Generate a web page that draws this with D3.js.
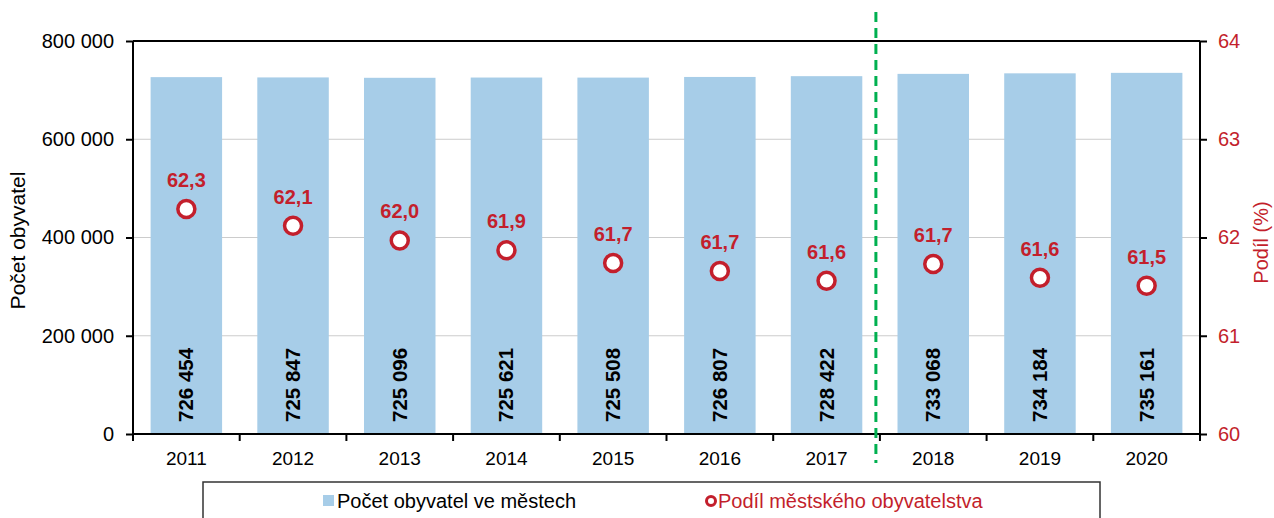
<!DOCTYPE html>
<html>
<head>
<meta charset="utf-8">
<script src="https://cdn.jsdelivr.net/npm/d3@7"></script>
<style>
  body { margin: 0; background: #fff; }
  svg text { font-family: "Liberation Sans", Arial, sans-serif; }
</style>
</head>
<body>
<div id="chart"></div>
<script>
// data
var years = ["2011", "2012", "2013", "2014", "2015", "2016", "2017", "2018", "2019", "2020"];
var population = [726454, 725847, 725096, 725621, 725508, 726807, 728422, 733068, 734184, 735161];
var share = [62.29, 62.12, 61.97, 61.87, 61.74, 61.66, 61.56, 61.73, 61.59, 61.51];
var leftTicks = [0, 200000, 400000, 600000, 800000];
var rightTicks = [60, 61, 62, 63, 64];
var breakAfter = "2017";

var width = 1274, height = 518,
  margin = {top: 41, right: 74, bottom: 84, left: 133},
  innerWidth = width - margin.left - margin.right,
  innerHeight = height - margin.top - margin.bottom;

var barColor = "#a7cde8", red = "#c31f2c";

var cz = d3.formatLocale({decimal: ",", thousands: "\u00a0", grouping: [3], currency: ["", ""]});
var fmtNum = cz.format(",d"), fmtPct = cz.format(".1f");

var svg = d3.select("#chart").append("svg")
  .attr("width", width)
  .attr("height", height);

var g = svg.append("g")
  .attr("transform", "translate(" + margin.left + "," + margin.top + ")");

var x = d3.scaleBand().domain(years).range([0, innerWidth]).paddingInner(0.33).paddingOuter(0.165);
var step = x.step();
var y = d3.scaleLinear().domain([0, 800000]).range([innerHeight, 0]);
var y2 = d3.scaleLinear().domain([60, 64]).range([innerHeight, 0]);

// gridlines
g.selectAll(".grid").data(leftTicks.slice(1, -1))
  .enter().append("line")
  .attr("x1", 0).attr("x2", innerWidth)
  .attr("y1", function(d) { return y(d); })
  .attr("y2", function(d) { return y(d); })
  .attr("stroke", "#cccccc").attr("stroke-width", 1);

// bars
g.selectAll(".bar").data(population)
  .enter().append("rect")
  .attr("x", function(d, i) { return x(years[i]); })
  .attr("y", function(d) { return y(d); })
  .attr("width", x.bandwidth())
  .attr("height", function(d) { return innerHeight - y(d); })
  .attr("fill", barColor);

// bar labels
g.selectAll(".blabel").data(population)
  .enter().append("text")
  .attr("transform", function(d, i) {
    return "translate(" + (x(years[i]) + x.bandwidth() / 2 + 7) + "," + (innerHeight - 12) + ") rotate(-90)";
  })
  .attr("font-size", 20.5).attr("font-weight", "bold").attr("fill", "#000")
  .text(function(d) { return fmtNum(d); });

// frame top
g.append("line").attr("x1", 0).attr("x2", innerWidth).attr("y1", 0).attr("y2", 0)
  .attr("stroke", "#000").attr("stroke-width", 2);

// axes
var yAxis = d3.axisLeft(y).tickValues(leftTicks).tickSize(7).tickPadding(12)
  .tickFormat(function(d) { return fmtNum(d); });
var yAxis2 = d3.axisRight(y2).tickValues(rightTicks).tickSize(7).tickPadding(11)
  .tickFormat(d3.format("d"));
var xAxis = d3.axisBottom(x).tickSize(0).tickPadding(18);

var ga = g.append("g").call(yAxis);
var gr = g.append("g").attr("transform", "translate(" + innerWidth + ",0)").call(yAxis2);
var gx = g.append("g").attr("transform", "translate(0," + innerHeight + ")").call(xAxis);

[ga, gr, gx].forEach(function(a) {
  a.select(".domain").attr("stroke", "#000").attr("stroke-width", 2);
  a.selectAll(".tick line").attr("stroke", "#000").attr("stroke-width", 2);
  a.selectAll("text").attr("font-family", "Liberation Sans, Arial, sans-serif").attr("font-size", 20);
});
ga.select(".domain").attr("d", "M0," + innerHeight + "V0");
gr.select(".domain").attr("d", "M0," + innerHeight + "V0");
gx.select(".domain").attr("d", "M0,0H" + innerWidth);
ga.selectAll("text").attr("fill", "#000");
gr.selectAll("text").attr("fill", red);
gx.selectAll("text").attr("fill", "#000").attr("font-size", 19);

// category separator ticks
gx.selectAll(".sep").data(d3.range(years.length + 1))
  .enter().append("line")
  .attr("x1", function(i) { return i * step; })
  .attr("x2", function(i) { return i * step; })
  .attr("y1", 0).attr("y2", 7)
  .attr("stroke", "#000").attr("stroke-width", 2);

// dashed break line
var bx = x(breakAfter) + x.bandwidth() + (step - x.bandwidth()) / 2 - 4;
g.append("line")
  .attr("x1", bx).attr("x2", bx)
  .attr("y1", -29).attr("y2", innerHeight + 29)
  .attr("stroke", "#00b050").attr("stroke-width", 3)
  .attr("stroke-dasharray", "10,6");

// share points
g.selectAll(".pt").data(share)
  .enter().append("circle")
  .attr("cx", function(d, i) { return x(years[i]) + x.bandwidth() / 2; })
  .attr("cy", function(d) { return y2(d); })
  .attr("r", 8.5)
  .attr("fill", "#fff").attr("stroke", red).attr("stroke-width", 3.5);

g.selectAll(".plabel").data(share)
  .enter().append("text")
  .attr("x", function(d, i) { return x(years[i]) + x.bandwidth() / 2; })
  .attr("y", function(d) { return y2(d) - 22; })
  .attr("text-anchor", "middle")
  .attr("font-size", 20).attr("font-weight", "bold").attr("fill", red)
  .text(function(d) { return fmtPct(d); });

// axis titles
svg.append("text")
  .attr("transform", "translate(25," + (margin.top + innerHeight / 2 + 3) + ") rotate(-90)")
  .attr("text-anchor", "middle").attr("font-size", 21).attr("fill", "#000")
  .text("Počet obyvatel");
svg.append("text")
  .attr("transform", "translate(1268," + (margin.top + innerHeight / 2 + 5) + ") rotate(-90)")
  .attr("text-anchor", "middle").attr("font-size", 20).attr("fill", red)
  .text("Podíl (%)");

// legend
var leg = svg.append("g").attr("transform", "translate(203,482)");
leg.append("rect").attr("x", 0).attr("y", 0).attr("width", 897).attr("height", 50)
  .attr("fill", "#fff").attr("stroke", "#333").attr("stroke-width", 1.5);
leg.append("rect").attr("x", 120).attr("y", 13).attr("width", 11).attr("height", 11).attr("fill", barColor);
leg.append("text").attr("x", 134).attr("y", 26).attr("font-size", 20).attr("fill", "#000")
  .text("Počet obyvatel ve městech");
leg.append("circle").attr("cx", 508).attr("cy", 19).attr("r", 4.5)
  .attr("fill", "#fff").attr("stroke", red).attr("stroke-width", 3);
leg.append("text").attr("x", 515).attr("y", 26).attr("font-size", 20).attr("fill", red)
  .text("Podíl městského obyvatelstva");
</script>
</body>
</html>
